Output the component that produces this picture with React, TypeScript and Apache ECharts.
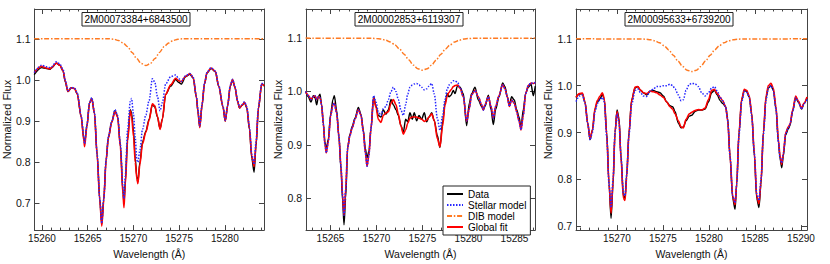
import React, { useEffect, useRef } from "react";
import * as echarts from "echarts";

const FONT = "'Liberation Sans', Arial, Helvetica, sans-serif";

const SERIES_NAMES = ["Data", "Stellar model", "DIB model", "Global fit"];
const PANEL_TITLES = ["2M00073384+6843500", "2M00002853+6119307", "2M00095633+6739200"];
const X_NAME = "Wavelength (Å)";
const Y_NAME = "Normalized Flux";

// ---------- Panel 1 ----------
const P1_WAVE = [
  15259.15, 15259.95, 15260.49, 15260.85, 15261.03, 15261.58, 15261.94, 15262.3, 15262.55, 15262.84,
  15263.21, 15263.57, 15263.86, 15264.29, 15264.58, 15264.66, 15264.91, 15265.2, 15265.45, 15265.74,
  15266.03, 15266.32, 15266.54, 15266.76, 15267.01, 15267.26, 15267.63, 15267.99, 15268.28, 15268.57,
  15268.86, 15268.97, 15269.11, 15269.37, 15269.66, 15269.8, 15270.02, 15270.2, 15270.38, 15270.49,
  15270.71, 15271.0, 15271.36, 15271.72, 15272.08, 15272.34, 15272.63, 15272.92, 15273.17, 15273.53,
  15274.08, 15274.62, 15274.98, 15275.24, 15275.71, 15276.18, 15276.54, 15276.9, 15277.05, 15277.26,
  15277.52, 15277.77, 15278.06, 15278.5, 15278.97, 15279.33, 15279.8, 15280.05, 15280.31, 15280.6,
  15280.85, 15281.11, 15281.4, 15281.61, 15281.87, 15282.16, 15282.41, 15282.7, 15282.95, 15283.21,
  15283.42, 15283.68, 15284.04, 15284.33,
];
const P1_DATA = [
  1.013, 1.03, 1.028, 1.026, 1.029, 1.041, 1.036, 1.022, 0.995, 0.972,
  0.981, 0.979, 0.966, 0.91, 0.858, 0.848, 0.888, 0.944, 0.955, 0.919,
  0.82, 0.711, 0.65, 0.711, 0.805, 0.86, 0.898, 0.926, 0.911, 0.842,
  0.73, 0.7, 0.752, 0.858, 0.928, 0.92, 0.875, 0.81, 0.765, 0.752,
  0.8, 0.85, 0.875, 0.905, 0.94, 0.935, 0.91, 0.882, 0.905, 0.965,
  0.985, 1.001, 0.994, 0.99, 1.008, 1.014, 1.005, 0.958, 0.925, 0.886,
  0.94, 0.99, 1.017, 1.028, 1.02, 0.985, 0.935, 0.9, 0.937, 0.985,
  1.0, 0.982, 0.948, 0.932, 0.938, 0.945, 0.932, 0.88, 0.81, 0.776,
  0.84, 0.93, 0.99, 0.985,
];
const P1_STELLAR = [
  1.018, 1.036, 1.032, 1.03, 1.032, 1.044, 1.039, 1.026, 0.999, 0.974,
  0.982, 0.98, 0.968, 0.913, 0.862, 0.845, 0.89, 0.945, 0.957, 0.921,
  0.82, 0.711, 0.652, 0.711, 0.805, 0.862, 0.899, 0.928, 0.913, 0.845,
  0.74, 0.712, 0.765, 0.88, 0.948, 0.955, 0.915, 0.86, 0.805, 0.8,
  0.83, 0.88, 0.915, 0.95, 1.003, 0.995, 0.96, 0.925, 0.945, 0.99,
  1.008, 1.012, 1.003, 0.997, 1.01, 1.016, 1.007, 0.96, 0.93, 0.888,
  0.942, 0.991, 1.019, 1.03, 1.022, 0.987, 0.937, 0.902, 0.937, 0.987,
  1.002, 0.984, 0.95, 0.934, 0.94, 0.947, 0.935, 0.885, 0.82, 0.795,
  0.85, 0.935, 0.992, 0.987,
];
const P1_FIT = [
  1.018, 1.033, 1.029, 1.027, 1.03, 1.041, 1.036, 1.023, 0.997, 0.972,
  0.981, 0.979, 0.966, 0.911, 0.852, 0.838, 0.886, 0.944, 0.955, 0.919,
  0.818, 0.708, 0.645, 0.708, 0.803, 0.859, 0.897, 0.924, 0.909, 0.838,
  0.722, 0.69, 0.745, 0.852, 0.925, 0.912, 0.862, 0.8, 0.76, 0.748,
  0.795, 0.845, 0.873, 0.902, 0.942, 0.937, 0.912, 0.88, 0.905, 0.965,
  0.988, 1.004, 0.998, 0.996, 1.009, 1.015, 1.006, 0.958, 0.925, 0.884,
  0.94, 0.99, 1.018, 1.029, 1.021, 0.986, 0.935, 0.9, 0.937, 0.986,
  1.001, 0.983, 0.948, 0.932, 0.938, 0.946, 0.933, 0.882, 0.815, 0.79,
  0.845, 0.932, 0.99, 0.986,
];
const P1_DIB_WAVE = [
  15259.15, 15267.36, 15267.86, 15268.36, 15268.86, 15269.36, 15269.86, 15270.36, 15270.86, 15271.36,
  15271.86, 15272.36, 15272.86, 15273.36, 15273.86, 15274.36, 15274.86, 15275.36, 15284.33,
];
const P1_DIB = [
  1.1, 1.1, 1.099, 1.096, 1.09, 1.081, 1.067, 1.052, 1.04, 1.035,
  1.04, 1.052, 1.067, 1.081, 1.09, 1.096, 1.099, 1.1, 1.1,
];

// ---------- Panel 2 ----------
const P2_WAVE = [
  15262.3, 15262.59, 15262.88, 15263.13, 15263.32, 15263.5, 15263.68, 15263.86, 15264.04, 15264.22,
  15264.4, 15264.55, 15264.76, 15265.02, 15265.27, 15265.42, 15265.67, 15265.92, 15266.14, 15266.32,
  15266.47, 15266.65, 15266.87, 15267.12, 15267.37, 15267.66, 15268.03, 15268.32, 15268.57, 15268.79,
  15268.97, 15269.18, 15269.4, 15269.69, 15269.95, 15270.2, 15270.49, 15270.74, 15271.03, 15271.29,
  15271.58, 15271.83, 15272.12, 15272.37, 15272.66, 15272.92, 15273.17, 15273.39, 15273.64, 15273.89,
  15274.11, 15274.37, 15274.62, 15274.91, 15275.2, 15275.45, 15275.71, 15276.0, 15276.29, 15276.61,
  15276.9, 15277.19, 15277.45, 15277.7, 15277.88, 15278.1, 15278.35, 15278.53, 15278.82, 15279.08,
  15279.44, 15279.8, 15280.09, 15280.34, 15280.71, 15281.07, 15281.43, 15281.61, 15281.79, 15282.16,
  15282.45, 15282.7, 15282.95, 15283.32, 15283.71, 15283.97, 15284.22, 15284.44, 15284.69, 15284.98,
  15285.24, 15285.49, 15285.71, 15285.96, 15286.21, 15286.5, 15286.79, 15287.05, 15287.26,
];
const P2_DATA = [
  1.0, 0.99, 0.98, 0.992, 0.988, 0.975, 0.99, 0.995, 0.975, 0.94,
  0.905, 0.892, 0.91, 0.958, 0.985, 0.992, 0.965, 0.915, 0.855, 0.795,
  0.75, 0.8, 0.895, 0.92, 0.935, 0.95, 0.97, 0.957, 0.928, 0.893,
  0.875, 0.888, 0.93, 0.99, 0.972, 0.955, 0.952, 0.966, 0.957, 0.966,
  0.985, 0.975, 0.966, 0.955, 0.936, 0.924, 0.948, 0.943, 0.96, 0.948,
  0.96, 0.945, 0.955, 0.948, 0.96, 0.943, 0.952, 0.96, 0.945, 0.918,
  0.895, 0.943, 0.978, 0.996, 0.99, 0.993, 1.002, 0.996, 1.011, 1.008,
  0.996, 0.936, 0.978, 0.996, 1.008, 0.984, 0.972, 0.966, 0.972, 0.993,
  0.966, 0.938, 0.966, 0.99, 1.016, 1.009, 0.99, 0.975, 0.99, 0.984,
  0.966, 0.952, 0.933, 0.966, 0.996, 1.008, 1.014, 0.992, 1.01,
];
const P2_STELLAR = [
  1.0, 0.993, 0.985, 0.99, 0.992, 0.985, 0.99, 0.988, 0.975, 0.94,
  0.9, 0.885, 0.905, 0.955, 0.975, 0.978, 0.96, 0.915, 0.86, 0.805,
  0.768, 0.815, 0.895, 0.918, 0.932, 0.948, 0.966, 0.955, 0.925, 0.885,
  0.86, 0.88, 0.93, 0.992, 0.98, 0.962, 0.955, 0.968, 0.972, 0.985,
  1.0, 1.008, 1.0, 0.985, 0.965, 0.955, 0.975, 0.995, 1.008, 1.012,
  1.014, 1.015, 1.012, 1.008, 1.003, 1.005, 1.01, 1.015, 0.995, 0.95,
  0.927, 0.955, 0.985, 1.005, 1.012, 1.016, 1.02, 1.02, 1.017, 1.008,
  0.99, 0.945, 0.968, 0.994, 1.002, 0.99, 0.975, 0.965, 0.975, 0.99,
  0.972, 0.95, 0.972, 0.992, 1.013, 1.005, 0.99, 0.972, 0.984, 0.978,
  0.962, 0.945, 0.928, 0.955, 0.996, 1.011, 1.016, 1.015, 1.017,
];
const P2_FIT = [
  1.0, 0.993, 0.985, 0.99, 0.992, 0.985, 0.99, 0.988, 0.975, 0.94,
  0.9, 0.885, 0.905, 0.955, 0.975, 0.978, 0.96, 0.915, 0.86, 0.805,
  0.768, 0.815, 0.895, 0.918, 0.932, 0.948, 0.966, 0.955, 0.925, 0.885,
  0.86, 0.88, 0.93, 0.988, 0.97, 0.948, 0.942, 0.955, 0.96, 0.962,
  0.978, 0.985, 0.975, 0.958, 0.935, 0.92, 0.928, 0.94, 0.95, 0.952,
  0.952, 0.952, 0.95, 0.948, 0.944, 0.946, 0.952, 0.958, 0.945, 0.912,
  0.896, 0.935, 0.975, 0.992, 0.998, 1.003, 1.009, 1.011, 1.012, 1.006,
  0.99, 0.944, 0.968, 0.994, 1.002, 0.99, 0.975, 0.965, 0.975, 0.99,
  0.972, 0.95, 0.972, 0.992, 1.013, 1.005, 0.99, 0.972, 0.984, 0.978,
  0.962, 0.945, 0.928, 0.955, 0.996, 1.011, 1.016, 1.015, 1.017,
];
const P2_DIB_WAVE = [
  15262.3, 15269.5, 15270.0, 15270.5, 15271.0, 15271.5, 15272.0, 15272.5, 15273.0, 15273.5,
  15274.0, 15274.5, 15275.0, 15275.5, 15276.0, 15276.5, 15277.0, 15277.5, 15278.0, 15278.5,
  15279.0, 15279.5, 15280.0, 15280.5, 15287.26,
];
const P2_DIB = [
  1.1, 1.0997, 1.0992, 1.0982, 1.0962, 1.0928, 1.0874, 1.0797, 1.07, 1.0593,
  1.0495, 1.0425, 1.04, 1.0425, 1.0495, 1.0593, 1.07, 1.0797, 1.0874, 1.0928,
  1.0962, 1.0982, 1.0992, 1.0997, 1.1,
];

// ---------- Panel 3 ----------
const P3_WAVE = [
  15265.54, 15265.91, 15266.23, 15266.52, 15266.81, 15267.07, 15267.32, 15267.61, 15267.86, 15268.15,
  15268.41, 15268.62, 15268.88, 15269.13, 15269.35, 15269.57, 15269.78, 15270.0, 15270.22, 15270.43,
  15270.69, 15270.87, 15271.05, 15271.3, 15271.59, 15271.96, 15272.25, 15272.57, 15272.86, 15273.22,
  15273.59, 15273.95, 15274.31, 15274.67, 15275.04, 15275.4, 15275.76, 15276.05, 15276.3, 15276.67,
  15276.96, 15277.21, 15277.5, 15277.86, 15278.12, 15278.48, 15278.84, 15279.2, 15279.57, 15279.93,
  15280.29, 15280.58, 15280.91, 15281.2, 15281.49, 15281.81, 15282.03, 15282.28, 15282.57, 15282.83,
  15283.01, 15283.26, 15283.55, 15283.84, 15284.09, 15284.38, 15284.64, 15284.93, 15285.18, 15285.43,
  15285.65, 15285.91, 15286.2, 15286.45, 15286.74, 15286.99, 15287.28, 15287.54, 15287.72, 15287.9,
  15288.08, 15288.33, 15288.62, 15288.8, 15289.09, 15289.42, 15289.71, 15290.07, 15290.33, 15290.65,
];
const P3_DATA = [
  0.975, 0.982, 0.983, 0.965, 0.92, 0.885, 0.905, 0.95, 0.965, 0.972,
  0.982, 0.97, 0.9, 0.79, 0.717, 0.79, 0.9, 0.948, 0.93, 0.85,
  0.765, 0.76, 0.81, 0.9, 0.97, 0.995, 0.998, 0.99, 0.985, 0.98,
  0.988, 0.99, 0.987, 0.985, 0.978, 0.965, 0.957, 0.955, 0.945, 0.92,
  0.91, 0.912, 0.925, 0.935, 0.937, 0.945, 0.948, 0.948, 0.95, 0.965,
  0.985, 0.99, 0.98, 0.968, 0.962, 0.955, 0.93, 0.85, 0.76, 0.736,
  0.79, 0.9, 0.97, 0.99, 0.988, 0.975, 0.94, 0.85, 0.76, 0.74,
  0.79, 0.9, 0.975, 0.995, 1.0, 0.99, 0.95, 0.88, 0.845, 0.825,
  0.85, 0.895, 0.908, 0.915, 0.945, 0.975, 0.965, 0.95, 0.962, 0.975,
];
const P3_STELLAR = [
  0.966, 0.978, 0.98, 0.962, 0.92, 0.884, 0.9, 0.945, 0.962, 0.97,
  0.975, 0.965, 0.89, 0.79, 0.74, 0.8, 0.9, 0.94, 0.92, 0.85,
  0.77, 0.765, 0.81, 0.895, 0.96, 0.99, 0.993, 0.985, 0.978, 0.977,
  0.988, 0.993, 0.998, 0.998, 1.0, 1.0, 1.003, 1.0, 0.993, 0.98,
  0.968, 0.97, 0.99, 1.003, 1.005, 1.004, 0.998, 0.985, 0.978, 0.985,
  0.995, 0.998, 0.988, 0.975, 0.968, 0.955, 0.925, 0.85, 0.765, 0.75,
  0.79, 0.895, 0.965, 0.988, 0.986, 0.975, 0.935, 0.855, 0.77, 0.755,
  0.8, 0.895, 0.97, 0.995, 1.0, 0.99, 0.95, 0.88, 0.845, 0.835,
  0.855, 0.898, 0.91, 0.918, 0.945, 0.975, 0.965, 0.95, 0.962, 0.97,
];
const P3_FIT = [
  0.975, 0.983, 0.984, 0.965, 0.92, 0.887, 0.905, 0.952, 0.968, 0.978,
  0.985, 0.972, 0.895, 0.79, 0.728, 0.795, 0.9, 0.945, 0.925, 0.845,
  0.76, 0.755, 0.805, 0.898, 0.968, 0.997, 0.998, 0.99, 0.985, 0.983,
  0.988, 0.987, 0.985, 0.98, 0.975, 0.965, 0.955, 0.95, 0.94, 0.925,
  0.912, 0.91, 0.928, 0.94, 0.943, 0.947, 0.949, 0.948, 0.952, 0.97,
  0.99, 0.992, 0.983, 0.975, 0.968, 0.955, 0.925, 0.85, 0.765, 0.746,
  0.79, 0.9, 0.972, 0.992, 0.99, 0.978, 0.94, 0.855, 0.765, 0.748,
  0.795, 0.9, 0.978, 1.0, 1.005, 0.995, 0.955, 0.885, 0.85, 0.832,
  0.855, 0.9, 0.912, 0.918, 0.948, 0.978, 0.967, 0.952, 0.963, 0.976,
];
const P3_DIB_WAVE = [
  15265.54, 15272.62, 15273.12, 15273.62, 15274.12, 15274.62, 15275.12, 15275.62, 15276.12, 15276.62,
  15277.12, 15277.62, 15278.12, 15278.62, 15279.12, 15279.62, 15280.12, 15280.62, 15281.12, 15281.62,
  15282.12, 15282.62, 15283.12, 15283.62, 15290.65,
];
const P3_DIB = [
  1.1, 1.0996, 1.0991, 1.0979, 1.0956, 1.0916, 1.0852, 1.0763, 1.065, 1.0525,
  1.0411, 1.0329, 1.03, 1.0329, 1.0411, 1.0525, 1.065, 1.0763, 1.0852, 1.0916,
  1.0956, 1.0979, 1.0991, 1.0996, 1.1,
];

// axis extents per panel
const X_MIN = [15259.18, 15262.34, 15265.54];
const X_MAX = [15284.29, 15287.23, 15290.65];
const Y_MIN = [0.6353, 0.7401, 0.6918];
const Y_MAX = [1.1724, 1.1546, 1.1636];

const PANELS = [
  { wave: P1_WAVE, data: P1_DATA, stellar: P1_STELLAR, fit: P1_FIT, dibWave: P1_DIB_WAVE, dib: P1_DIB },
  { wave: P2_WAVE, data: P2_DATA, stellar: P2_STELLAR, fit: P2_FIT, dibWave: P2_DIB_WAVE, dib: P2_DIB },
  { wave: P3_WAVE, data: P3_DATA, stellar: P3_STELLAR, fit: P3_FIT, dibWave: P3_DIB_WAVE, dib: P3_DIB },
];

const GRIDS = [
  { left: 33, top: 9, width: 231, height: 230 },
  { left: 306, top: 9, width: 229, height: 230 },
  { left: 576, top: 9, width: 231, height: 230 },
];
const TITLE_CENTERS = [136, 409, 679];

const AXIS_COLOR = "#444";

function zip(w: number[], v: number[]) {
  return w.map((x, i) => [x, v[i]]);
}

export default function App() {
  const ref = useRef<HTMLDivElement>(null);

  useEffect(() => {
    const chart = echarts.init(ref.current as HTMLDivElement, null, { renderer: "svg" });

    const xAxis: any[] = [];
    const yAxis: any[] = [];
    const series: any[] = [];
    const graphic: any[] = [];

    PANELS.forEach((p, i) => {
      const common = {
        type: "value",
        gridIndex: i,
        splitLine: { show: false },
        axisLine: { show: true, onZero: false, lineStyle: { color: AXIS_COLOR, width: 1 } },
        axisTick: { show: true, inside: true, length: 5, lineStyle: { color: AXIS_COLOR } },
      };
      const xc = {
        ...common,
        min: X_MIN[i],
        max: X_MAX[i],
        splitNumber: 5,
        minorTick: { show: true, splitNumber: 5, length: 2.5, lineStyle: { color: AXIS_COLOR } },
      };
      xAxis.push({
        ...xc,
        position: "bottom",
        axisLabel: {
          show: true,
          margin: 3,
          fontSize: 10,
          color: "#111",
          fontFamily: FONT,
          showMinLabel: false,
          showMaxLabel: false,
          formatter: (v: number) => v.toFixed(0),
        },
        name: X_NAME,
        nameLocation: "middle",
        nameGap: 14,
        nameTextStyle: { fontSize: 10.5, color: "#111", fontFamily: FONT },
      });
      xAxis.push({ ...xc, position: "top", axisLabel: { show: false } });

      const yc = { ...common, min: Y_MIN[i], max: Y_MAX[i], splitNumber: 5 };
      yAxis.push({
        ...yc,
        position: "left",
        axisLabel: {
          show: true,
          margin: 4,
          fontSize: 10.5,
          color: "#111",
          fontFamily: FONT,
          showMinLabel: false,
          showMaxLabel: false,
          formatter: (v: number) => v.toFixed(1),
        },
        name: Y_NAME,
        nameLocation: "middle",
        nameGap: 20,
        nameRotate: 90,
        nameTextStyle: { fontSize: 11, color: "#111", fontFamily: FONT },
      });
      yAxis.push({ ...yc, position: "right", axisLabel: { show: false } });

      const base = {
        type: "line",
        xAxisIndex: 2 * i,
        yAxisIndex: 2 * i,
        symbol: "none",
        showSymbol: false,
        smooth: 0.3,
        smoothMonotone: "x",
        clip: true,
        silent: true,
      };
      series.push({
        ...base,
        name: "Data",
        data: zip(p.wave, p.data),
        lineStyle: { color: "#000", width: 1.4 },
        itemStyle: { color: "#000" },
      });
      series.push({
        ...base,
        name: "Global fit",
        data: zip(p.wave, p.fit),
        lineStyle: { color: "#ff0000", width: 1.6 },
        itemStyle: { color: "#ff0000" },
      });
      series.push({
        ...base,
        name: "Stellar model",
        data: zip(p.wave, p.stellar),
        lineStyle: { color: "#2626ff", width: 1.5, type: [1.5, 1.5] },
        itemStyle: { color: "#2626ff" },
      });
      series.push({
        ...base,
        name: "DIB model",
        data: zip(p.dibWave, p.dib),
        lineStyle: { color: "#ff7a22", width: 1.5, type: [5, 1.8, 1.5, 1.8] },
        itemStyle: { color: "#ff7a22" },
      });

      const cx = TITLE_CENTERS[i];
      graphic.push({
        type: "rect",
        shape: { x: cx - 54, y: 12.5, width: 108, height: 13.5 },
        style: { fill: "#fff", stroke: "#222", lineWidth: 1 },
        z: 100,
      });
      graphic.push({
        type: "text",
        x: cx,
        y: 19.5,
        style: {
          text: PANEL_TITLES[i],
          fill: "#000",
          font: `10px ${FONT}`,
          align: "center",
          verticalAlign: "middle",
          textAlign: "center",
          textVerticalAlign: "middle",
        },
        z: 101,
      });
    });

    chart.setOption({
      animation: false,
      textStyle: { fontFamily: FONT },
      grid: GRIDS.map((g) => ({ ...g, containLabel: false, show: false })),
      xAxis,
      yAxis,
      series,
      graphic,
      legend: {
        show: true,
        data: SERIES_NAMES,
        selectedMode: false,
        orient: "vertical",
        left: 443,
        top: 186,
        itemWidth: 16,
        itemHeight: 8,
        itemGap: 1,
        padding: [3, 4, 3, 3],
        borderColor: "#222",
        borderWidth: 1,
        backgroundColor: "#fff",
        itemStyle: { opacity: 0, borderWidth: 0 },
        textStyle: { fontSize: 10, color: "#000", fontFamily: FONT, lineHeight: 9 },
      },
    });

    return () => chart.dispose();
  }, []);

  return (
    <div
      ref={ref}
      style={{ position: "absolute", left: 0, top: 0, width: 830, height: 264 }}
    />
  );
}
